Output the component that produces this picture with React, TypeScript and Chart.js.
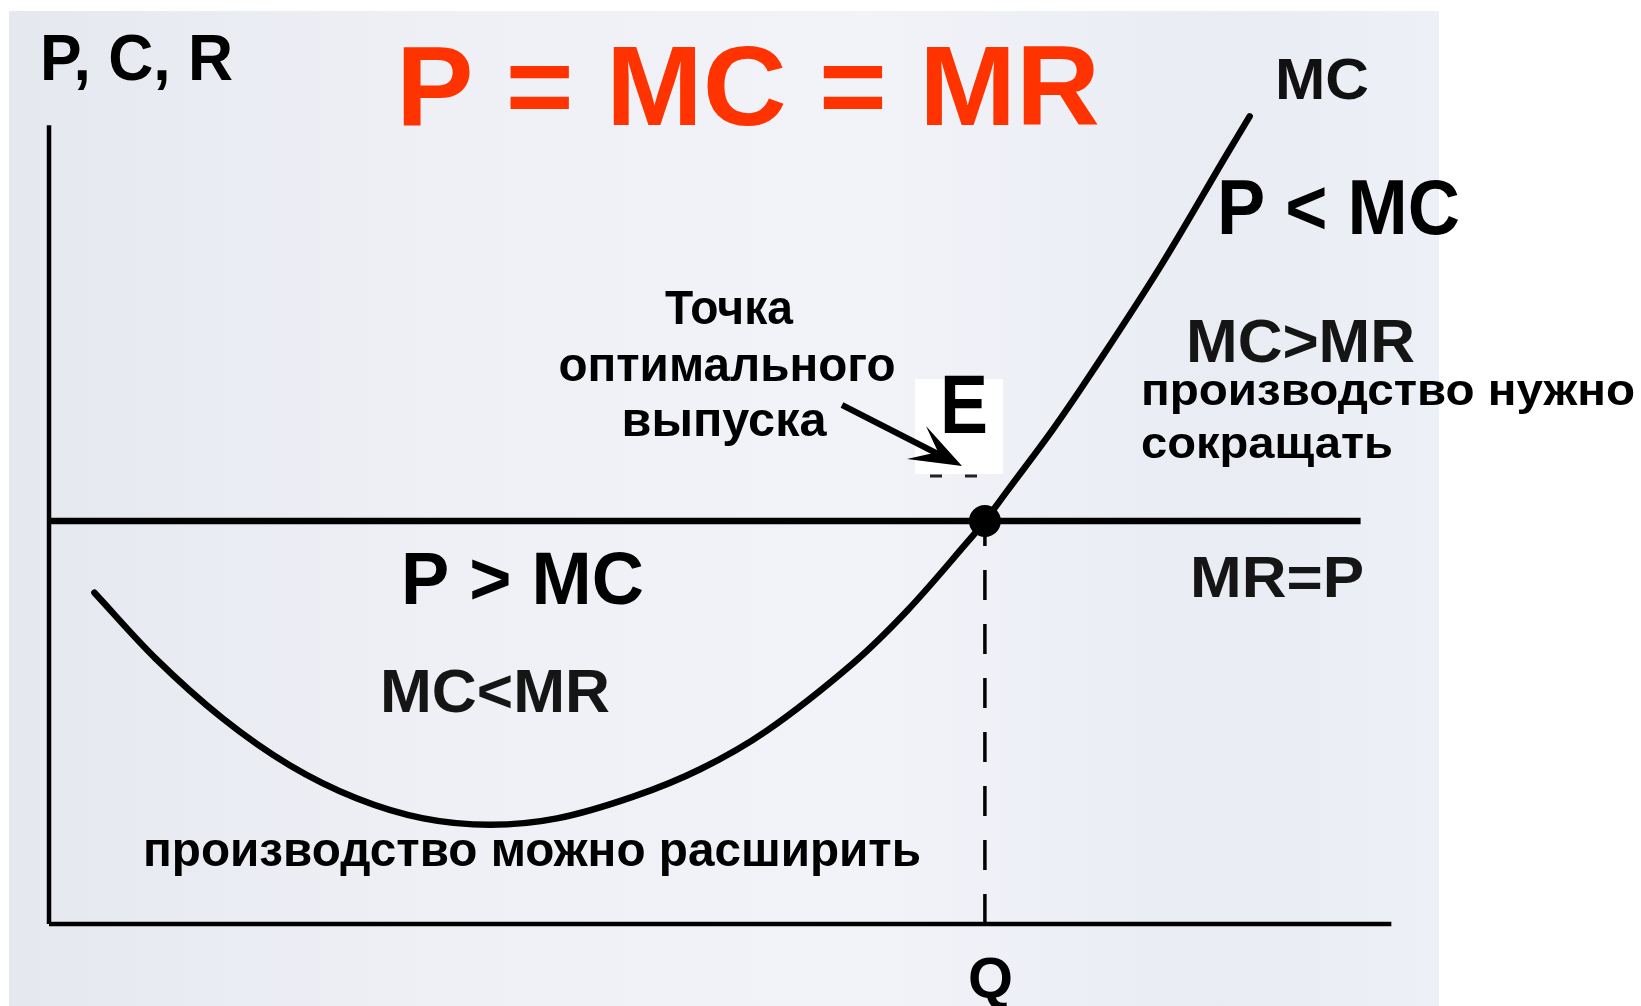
import React, { useEffect, useRef } from "react";
import { Chart, registerables } from "chart.js";

Chart.register(...registerables);

// ---- data ----
// MC curve: quantity (Q) and marginal cost
const mcQ = [0.34, 0.8, 1.3, 1.8, 2.3, 2.8, 3.3, 3.8, 4.37, 4.87, 5.37, 6.01, 6.42, 6.87, 7.0, 7.17, 7.51, 7.81, 8.31, 8.81, 8.98];
const mcCost = [4.11, 3.29, 2.55, 1.97, 1.56, 1.31, 1.23, 1.31, 1.58, 1.92, 2.4, 3.23, 3.89, 4.74, 5.0, 5.38, 6.14, 6.87, 8.15, 9.55, 10.02];
// MR = P horizontal line
const mrQ = [0, 9.81];
const price = 5;
// equilibrium quantity
const eqQ = 7;
// axis extents
const axisQMax = 10.04;
const axisPMax = 9.91;

const FONT = '"Liberation Sans", Arial, Helvetica, sans-serif';

type Label = { text: string; x: number; y: number; size: number; w?: number; color?: string; align?: "left" | "center" };

const labels: Label[] = [
  { text: "P, C, R", x: 40, y: 80, size: 65, w: 193 },
  { text: "P = MC = MR", x: 396, y: 125, size: 113, w: 704, color: "#ff3300" },
  { text: "MC", x: 1275, y: 99, size: 58, w: 94, color: "#111" },
  { text: "P < MC", x: 1217, y: 234, size: 77, w: 243 },
  { text: "MC>MR", x: 1186, y: 362, size: 62, w: 229, color: "#151515" },
  { text: "производство нужно", x: 1141, y: 405, size: 45, w: 494 },
  { text: "сокращать", x: 1141, y: 458, size: 45, w: 252 },
  { text: "Точка", x: 729, y: 324, size: 48, w: 128, align: "center" },
  { text: "оптимального", x: 727, y: 381, size: 48, w: 337, align: "center" },
  { text: "выпуска", x: 724, y: 436, size: 48, w: 205, align: "center" },
  { text: "P > MC", x: 401, y: 604, size: 74, w: 243 },
  { text: "MR=P", x: 1190, y: 597, size: 57, w: 174, color: "#151515" },
  { text: "MC<MR", x: 380, y: 712, size: 62, w: 230, color: "#151515" },
  { text: "производство можно расширить", x: 143, y: 866, size: 49, w: 778 },
  { text: "Q", x: 968, y: 998, size: 57, w: 45 },
];

function drawLabel(ctx: CanvasRenderingContext2D, l: Label) {
  ctx.save();
  ctx.font = `bold ${l.size}px ${FONT}`;
  ctx.fillStyle = l.color || "#000";
  ctx.textBaseline = "alphabetic";
  ctx.textAlign = "left";
  const m = ctx.measureText(l.text).width;
  const sx = l.w ? l.w / m : 1;
  const left = l.align === "center" ? l.x - (m * sx) / 2 : l.x;
  ctx.translate(left, l.y);
  ctx.scale(sx, 1);
  ctx.fillText(l.text, 0, 0);
  ctx.restore();
}

const decorPlugin = {
  id: "decor",
  beforeDraw(chart: any) {
    const ctx: CanvasRenderingContext2D = chart.ctx;
    ctx.save();
    ctx.fillStyle = "#ffffff";
    ctx.fillRect(0, 0, chart.width, chart.height);
    const g = ctx.createLinearGradient(9, 0, 1439, 0);
    g.addColorStop(0, "#e6e8ef");
    g.addColorStop(0.3, "#eef0f6");
    g.addColorStop(0.6, "#f1f3f9");
    g.addColorStop(0.85, "#eaecf3");
    g.addColorStop(1, "#eef0f7");
    ctx.fillStyle = g;
    ctx.fillRect(9, 11, 1430, chart.height - 11);
    ctx.restore();
  },
  afterDatasetsDraw(chart: any) {
    const ctx: CanvasRenderingContext2D = chart.ctx;
    ctx.save();
    // white box behind E
    ctx.fillStyle = "#ffffff";
    ctx.fillRect(915, 379, 88, 95);
    // small dash remnants under the box
    ctx.strokeStyle = "#222";
    ctx.lineWidth = 3;
    ctx.beginPath();
    ctx.moveTo(930, 476);
    ctx.lineTo(942, 476);
    ctx.moveTo(965, 476);
    ctx.lineTo(977, 476);
    ctx.stroke();
    ctx.restore();

    // arrow
    ctx.save();
    ctx.strokeStyle = "#000";
    ctx.fillStyle = "#000";
    ctx.lineWidth = 6;
    ctx.beginPath();
    ctx.moveTo(842, 405);
    ctx.lineTo(940, 455);
    ctx.stroke();
    ctx.beginPath();
    ctx.moveTo(962, 466);
    ctx.lineTo(926, 426);
    ctx.lineTo(938, 452);
    ctx.lineTo(907, 459);
    ctx.closePath();
    ctx.fill();
    ctx.restore();

    labels.forEach((l) => drawLabel(ctx, l));
    drawLabel(ctx, { text: "E", x: 940, y: 433, size: 84, w: 48 });
  },
};

export default function App() {
  const ref = useRef<HTMLCanvasElement | null>(null);
  useEffect(() => {
    if (!ref.current) return;
    const line = (data: { x: number; y: number }[], width: number, extra: any = {}) => ({
      data,
      borderColor: "#000",
      backgroundColor: "#000",
      borderWidth: width,
      pointRadius: 0,
      fill: false,
      clip: false,
      tension: 0,
      ...extra,
    });
    const chart = new Chart(ref.current, {
      type: "line",
      data: {
        datasets: [
          line([{ x: eqQ, y: price }], 0, { pointRadius: 16, pointBackgroundColor: "#000", pointBorderWidth: 0, showLine: false, label: "E" }),
          line(mcQ.map((q, i) => ({ x: q, y: mcCost[i] })), 6.5, { tension: 0.35, borderCapStyle: "round", label: "MC" }),
          line(mrQ.map((q) => ({ x: q, y: price })), 6.5, { label: "MR=P" }),
          line([{ x: eqQ, y: 0 }, { x: eqQ, y: price }], 3.5, { borderDash: [30, 24], label: "Q*" }),
          line([{ x: 0, y: 0 }, { x: 0, y: axisPMax }], 4.5, { label: "P axis" }),
          line([{ x: 0, y: 0 }, { x: axisQMax, y: 0 }], 4.5, { label: "Q axis" }),
        ],
      },
      options: {
        animation: false,
        responsive: false,
        devicePixelRatio: 1,
        layout: { padding: { left: 49, right: 255, top: 118, bottom: 82 } },
        plugins: { legend: { display: false }, tooltip: { enabled: false }, title: { display: false } },
        scales: {
          x: { type: "linear", min: 0, max: 10, display: false },
          y: { type: "linear", min: 0, max: 10, display: false },
        },
        events: [],
      },
      plugins: [decorPlugin],
    } as any);
    return () => chart.destroy();
  }, []);
  return (
    <div style={{ position: "fixed", left: 0, top: 0, width: 1641, height: 1006, background: "#fff" }}>
      <canvas ref={ref} width={1641} height={1006} style={{ display: "block", width: 1641, height: 1006 }} />
    </div>
  );
}
